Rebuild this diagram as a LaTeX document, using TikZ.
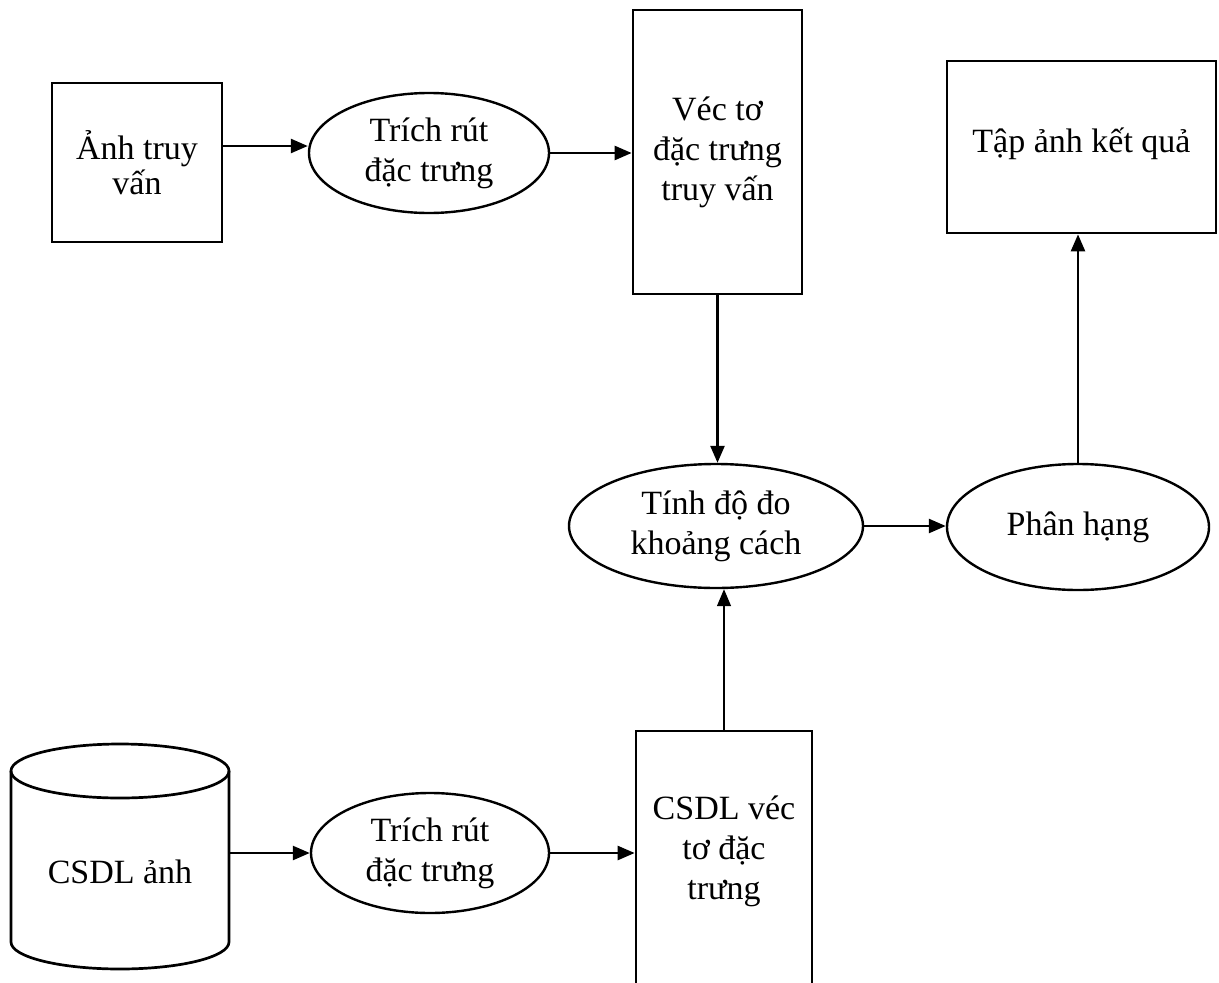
\documentclass[tikz,border=0pt]{standalone}
\usepackage{fontspec}
\setmainfont{Liberation Serif}
\usetikzlibrary{shapes.geometric,arrows.meta}

\tikzset{
  lbl/.style={font=\fontsize{34}{40}\selectfont, align=center},
  box/.style={draw, line width=2.7pt, rectangle, inner sep=0pt},
  oval/.style={draw, line width=2.4pt, ellipse, inner sep=0pt, lbl},
  arr/.style={line width=2.5pt, -{Triangle[length=17pt,width=14pt]}},
  thinarr/.style={line width=1.4pt, -{Triangle[length=17pt,width=14pt]}},
}

\begin{document}
\begin{tikzpicture}[x=1pt,y=-1pt]
\useasboundingbox (0,0) rectangle (1219,983);

% query branch
\node[box, lbl, font=\fontsize{34}{35}\selectfont, minimum width=170pt, minimum height=159pt] (anh) at (137,162.5) {Ảnh truy\\vấn};
\node[oval, minimum width=240pt, minimum height=120pt] (tre1) at (429,153) {Trích rút\\đặc trưng};
\node[box, lbl, minimum width=169pt, minimum height=284pt] (vec) at (717.5,152) {Véc tơ\\đặc trưng\\truy vấn};

% result side
\node[box, minimum width=269pt, minimum height=172pt] (tap) at (1081.5,147) {};
\node[lbl] (taptext) at (1081.5,144) {Tập ảnh kết quả};
\node[oval, minimum width=294pt, minimum height=124pt] (tinh) at (716,526) {Tính độ đo\\khoảng cách};
\node[oval, minimum width=262pt, minimum height=126pt] (phan) at (1078,527) {Phân hạng};

% database branch: cylinder drawn by hand around its label node
\node[rectangle, inner sep=0pt, minimum width=218pt, minimum height=226pt] (db) at (120,856) {};
\node[lbl] (dbtext) at (120,872) {CSDL ảnh};
\draw[line width=2.7pt]
  (11,771) -- (11,942)
  .. controls (11,957) and (60,969) .. (120,969)
  .. controls (180,969) and (229,957) .. (229,942)
  -- (229,771);
\draw[line width=2.7pt] (120,771) ellipse [x radius=109, y radius=27];

\node[oval, minimum width=238pt, minimum height=120pt] (tre2) at (430,853) {Trích rút\\đặc trưng};
\node[box, minimum width=176pt, minimum height=280pt] (cvec) at (724,871) {};
\node[lbl] (cvectext) at (724,851) {CSDL véc\\tơ đặc\\trưng};

% connectors
\draw[arr] (anh.east |- 0,146) -- (tre1.west |- 0,146);
\draw[arr] (tre1.east) -- (tre1.east -| vec.west);
\draw[arr] (vec.south) -- (vec.south |- tinh.north);
\draw[arr] (tinh.east) -- (tinh.east -| phan.west);
\draw[arr] (phan.north) -- (phan.north |- tap.south);
\draw[arr] (tre2.west -| db.east) -- (tre2.west);
\draw[arr] (tre2.east) -- (tre2.east -| cvec.west);
\draw[thinarr] (cvec.north) -- (cvec.north |- tinh.south);
\end{tikzpicture}
\end{document}
